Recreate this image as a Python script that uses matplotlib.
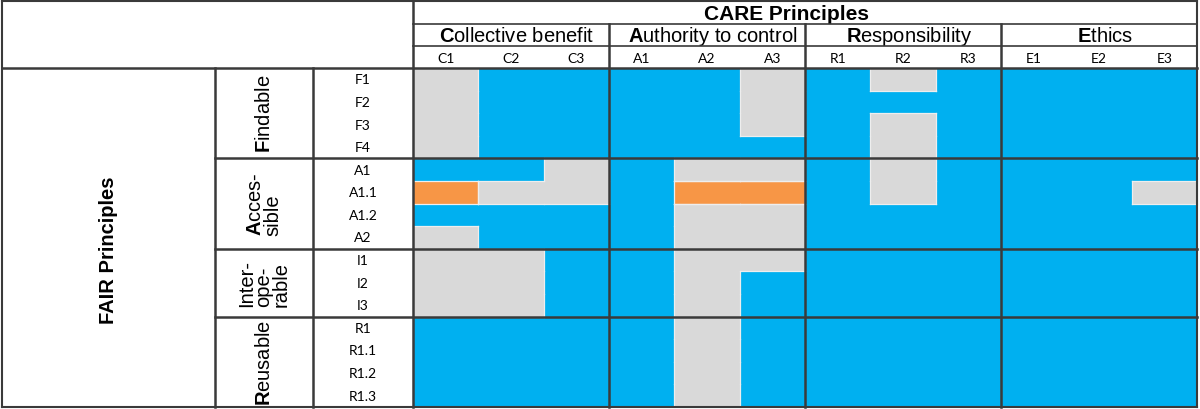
import numpy as np
import matplotlib
matplotlib.use('Agg')
import matplotlib.pyplot as plt
from matplotlib.colors import ListedColormap

plt.rcParams['font.family'] = ['Liberation Sans', 'DejaVu Sans']
plt.rcParams['mathtext.fontset'] = 'custom'
plt.rcParams['mathtext.rm'] = 'Liberation Sans'
plt.rcParams['mathtext.bf'] = 'Liberation Sans:bold'

# CARE columns
care_title = 'CARE Principles'
care_groups = [r'$\mathbf{C}$ollective benefit', r'$\mathbf{A}$uthority to control',
               r'$\mathbf{R}$esponsibility', r'$\mathbf{E}$thics']
care_cols = ['C1', 'C2', 'C3', 'A1', 'A2', 'A3', 'R1', 'R2', 'R3', 'E1', 'E2', 'E3']

# FAIR rows
fair_title = 'FAIR Principles'
fair_groups = [r'$\mathbf{F}$indable', '$\\mathbf{A}$cces-\nsible', 'Inter-\nope-\nrable',
               r'$\mathbf{R}$eusable']
fair_group_sizes = [4, 4, 3, 4]
fair_rows = ['F1', 'F2', 'F3', 'F4', 'A1', 'A1.1', 'A1.2', 'A2', 'I1', 'I2', 'I3',
             'R1', 'R1.1', 'R1.2', 'R1.3']

# b = blue, g = grey, o = orange   (columns C1..E3)
cells = [
    'gbbbbgbgbbbb',  # F1
    'gbbbbgbbbbbb',  # F2
    'gbbbbgbgbbbb',  # F3
    'gbbbbbbgbbbb',  # F4
    'bbgbggbgbbbb',  # A1
    'oggboobgbbbg',  # A1.1
    'bbbbggbbbbbb',  # A1.2
    'gbbbggbbbbbb',  # A2
    'ggbbggbbbbbb',  # I1
    'ggbbgbbbbbbb',  # I2
    'ggbbgbbbbbbb',  # I3
    'bbbbgbbbbbbb',  # R1
    'bbbbgbbbbbbb',  # R1.1
    'bbbbgbbbbbbb',  # R1.2
    'bbbbgbbbbbbb',  # R1.3
]

code = {'b': 0, 'g': 1, 'o': 2}
cmap = ListedColormap(['#00B0F0', '#D9D9D9', '#F79646'])
Z = np.array([[code[c] for c in r] for r in cells])

# layout in pixels
W, H = 1200, 410
x0, x_fair, x_sub, x_data, x_end = 2, 215, 313, 413, 1197
y0, y_care, y_grp, y_data, y_end = 2, 25, 47, 69, 408

fig = plt.figure(figsize=(W / 100, H / 100), dpi=100)
ax = fig.add_axes([0, 0, 1, 1])
ax.set_xlim(0, W)
ax.set_ylim(H, 0)
ax.axis('off')

nr, nc = Z.shape
xe = np.linspace(x_data, x_end, nc + 1)
ye = np.linspace(y_data, y_end, nr + 1)
ax.pcolormesh(xe, ye, Z, cmap=cmap, vmin=-0.5, vmax=2.5)

# faint light outline only where a grey/orange cell meets a different colour
edge_kw = dict(color='#EEEEEE', lw=0.9, zorder=2)
for i in range(nr):
    for j in range(nc):
        if Z[i, j] == 0:
            continue
        if i == 0 or Z[i - 1, j] != Z[i, j]:
            ax.plot([xe[j], xe[j + 1]], [ye[i], ye[i]], **edge_kw)
        if i == nr - 1 or Z[i + 1, j] != Z[i, j]:
            ax.plot([xe[j], xe[j + 1]], [ye[i + 1], ye[i + 1]], **edge_kw)
        if j == 0 or Z[i, j - 1] != Z[i, j]:
            ax.plot([xe[j], xe[j]], [ye[i], ye[i + 1]], **edge_kw)
        if j == nc - 1 or Z[i, j + 1] != Z[i, j]:
            ax.plot([xe[j + 1], xe[j + 1]], [ye[i], ye[i + 1]], **edge_kw)

lc = '#3A3A3A'
lw = 1.8
def hline(y, xa, xb, w=lw):
    ax.plot([xa, xb], [y, y], color=lc, lw=w, zorder=5, solid_capstyle='projecting')
def vline(x, ya, yb, w=lw):
    ax.plot([x, x], [ya, yb], color=lc, lw=w, zorder=5, solid_capstyle='projecting')

# outer frame
hline(y0, x0, x_end, 1.5)
hline(y_end, x0, x_end, 1.5)
vline(x0, y0, y_end, 1.5)
vline(x_end, y0, y_end, 1.5)
# header lines
hline(y_care, x_data, x_end, 1.2)
hline(y_grp, x_data, x_end, 1.2)
hline(y_data, x0, x_end)
vline(x_data, y0, y_end)
vline(x_fair, y_data, y_end)
vline(x_sub, y_data, y_end)
for k in range(1, 4):
    vline(xe[3 * k], y_care, y_end)
start = 0
for s in fair_group_sizes[:-1]:
    start += s
    hline(ye[start], x_fair, x_end)

# header texts
ax.text((x_data + x_end) / 2 - 18, (y0 + y_care) / 2 + 1, care_title, ha='center',
        va='center', fontsize=15, fontweight='bold')
for k, g in enumerate(care_groups):
    ax.text((xe[3 * k] + xe[3 * k + 3]) / 2 + 6, (y_care + y_grp) / 2 + 1, g,
            ha='center', va='center', fontsize=14.5)
for j, c in enumerate(care_cols):
    ax.text((xe[j] + xe[j + 1]) / 2, (y_grp + y_data) / 2 + 1, c, ha='center', va='center',
            fontsize=10, family='Lato')

# row texts
for i, r in enumerate(fair_rows):
    ax.text((x_sub + x_data) / 2, (ye[i] + ye[i + 1]) / 2, r, ha='center', va='center',
            fontsize=10, family='Lato')
start = 0
for g, s in zip(fair_groups, fair_group_sizes):
    ax.text((x_fair + x_sub) / 2, (ye[start] + ye[start + s]) / 2, g, rotation=90,
            ha='center', va='center', fontsize=14.5, multialignment='left', linespacing=0.9)
    start += s
ax.text((x0 + x_fair) / 2, (y_data + y_end) / 2 + 12, fair_title, rotation=90, ha='center',
        va='center', fontsize=14.5, fontweight='bold')

fig.savefig('out.png', dpi=100, facecolor='white')
